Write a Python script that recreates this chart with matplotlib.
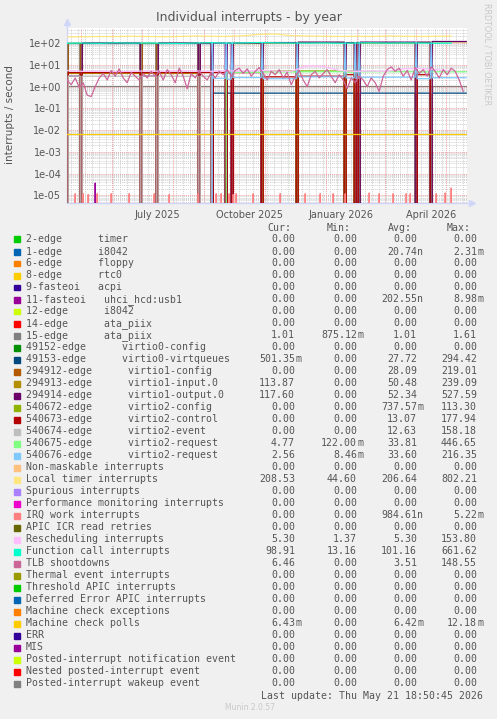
# Munin "Individual interrupts - by year" graph, redrawn with matplotlib

import numpy as np
import pandas as pd
import matplotlib
matplotlib.use('Agg')
import matplotlib.pyplot as plt
import matplotlib.dates as mdates
from matplotlib.patches import Rectangle
from matplotlib.lines import Line2D
from matplotlib.ticker import LogLocator, FuncFormatter, NullFormatter

W, H = 497, 719

# ---------------- data ----------------
t_start = pd.Timestamp('2025-04-16 18:50')
t_end = pd.Timestamp('2026-05-21 18:50')
days = pd.date_range('2025-04-17', '2026-05-21', freq='D')

# reboots: the virtio counters fall to zero on these days
outages = ['2025-04-17', '2025-05-01', '2025-06-30', '2025-07-16', '2025-08-27',
           '2025-09-09', '2025-09-23', '2025-09-29', '2025-10-29', '2025-12-03',
           '2026-01-20', '2026-01-30', '2026-02-03', '2026-04-01', '2026-04-16']

# level of each irq in the period that follows each reboot
lvl_15 = 1.01
lvl_49153 = [95, 95, 95, 95, 95, 0.5, 0.5, 0.5, 0.5, 0.5, 0.5, 0.5, 0.5, 0.5, 0.5]
lvl_294912 = [97, 97, 97, 97, 97, 0, 0, 0, 0, 0, 0, 0, 0, 0, 0]
lvl_294913 = [4, 4, 4, 4, 0, 0, 0, 95, 100, 105, 100, 100, 100, 105, 113.87]
lvl_294914 = [3, 100, 3, 100, 100, 100, 100, 100, 105, 110, 105, 105, 110, 110, 117.6]
lvl_540672 = [0, 0, 0, 0, 0, 0, 0, 0, 5.2, 5.2, 5.2, 0, 0, 0, 0]
lvl_540673 = [4.4, 4.4, 4.4, 4.4, 4.4, 4.4, 4.4, 4.4, 2.8, 3.0, 3.5, 3.5, 0, 3.5, 0]
lvl_540674 = [3, 3, 3, 3, 3, 0, 0, 0, 0, 0, 0, 0, 0, 0, 0]
lvl_540675 = [0, 0, 0, 0, 0, 0, 4.6, 4.5, 4.7, 4.8, 4.6, 4.7, 4.8, 4.7, 4.77]
# virtio2-request (second queue) keeps counting through the reboot days
boot_540675 = [0, 0, 0, 0, 0, 0, 4.6, 4.5, 4.7, 4.8, 4.6, 4.7, 4.8, 4.7, 4.77]
lvl_540676 = [0, 0, 0, 0, 0, 2.4, 2.2, 2.6, 2.3, 2.8, 2.5, 2.4, 2.7, 2.3, 2.56]
# virtio2-request burst on the reboot day itself
boot_540676 = [0, 0, 0, 0, 0, 100, 100, 100, 100, 100, 100, 100, 100, 100, 100]

# sampled every 16 days
local_timer = [190, 195, 200, 198, 205, 200, 195, 200, 210, 205, 200, 215, 250,
               260, 220, 210, 205, 200, 205, 200, 210, 205, 200, 205, 208]
function_call = [98, 100, 97, 102, 99, 100, 98, 96, 100, 103, 99, 101, 105,
                 102, 100, 99, 101, 98, 100, 102, 99, 101, 100, 98, 99]
rescheduling = [5.5, 5.0, 5.2, 4.8, 5.0, 5.3, 5.0, 5.5, 5.2, 5.0, 5.4, 5.0, 5.6,
                5.2, 5.0, 9.0, 8.5, 5.5, 5.0, 5.2, 5.0, 6.5, 6.8, 6.0, 5.3]

# sampled every 4 days
tlb = [2.0, 1.2, 2.5, 0.9, 1.5, 0.4, 0.35, 1.0,
       2.5, 4.0, 2.0, 5.5, 3.0, 6.5, 2.5, 1.5, 4.5, 3.0, 2.0,
       4.0, 2.5, 5.0, 3.0,
       5.0, 2.0, 6.0, 3.5, 1.5, 7.0, 3.0, 0.8, 4.0, 2.5, 5.0,
       3.0, 2.0, 4.5, 2.5, 5.0, 3.5, 6.0, 3.0, 5.5, 7.0,
       4.0, 6.5, 3.0, 5.0, 7.5, 4.0, 2.0, 5.0, 3.5, 6.0,
       2.5, 4.5, 1.2, 3.0, 5.5, 2.0, 1.0, 3.5, 5.0, 2.5,
       4.0, 6.0, 3.0, 1.5, 3.5, 2.0, 0.8, 2.5, 1.5, 3.0,
       2.0, 1.0, 2.5, 1.5, 0.6, 3.0, 6.0, 8.0, 5.0, 7.0,
       3.0, 5.5, 2.0, 7.5, 4.0, 6.0, 3.0, 8.0, 5.0, 2.5,
       6.0, 3.5, 7.0, 5.0, 2.0, 0.6]

machine_check_polls = 6.43e-3

# short bursts near the bottom of the graph
irq_work_days = ['2025-04-25', '2025-05-03', '2025-05-08', '2025-05-17', '2025-05-31',
                 '2025-06-18', '2025-07-13', '2025-07-28', '2025-08-26', '2025-09-13',
                 '2025-09-18', '2025-09-26', '2025-09-30', '2025-10-03', '2025-10-20',
                 '2025-11-16', '2025-12-11', '2025-12-26', '2026-01-08', '2026-01-20',
                 '2026-02-13', '2026-02-23', '2026-03-09', '2026-03-22', '2026-03-26',
                 '2026-04-21', '2026-04-30', '2026-05-06']
irq_work_vals = [1.2e-5, 1.2e-5, 1.1e-5, 1.2e-5, 1.2e-5, 1.2e-5, 1.2e-5, 1.1e-5,
                 1.2e-5, 1.2e-5, 1.2e-5, 1.2e-5, 1.1e-5, 1.2e-5, 1.2e-5, 1.2e-5,
                 1.2e-5, 1.2e-5, 1.2e-5, 1.2e-5, 1.3e-5, 1.2e-5, 1.2e-5, 1.2e-5,
                 1.2e-5, 1.2e-5, 1.3e-5, 2.2e-5]
usb_days = ['2025-05-15']
usb_vals = [3.7e-5]
i8042_days = ['2025-09-10']
i8042_vals = [1.2e-5]

# legend table
names = ['2-edge      timer', '1-edge      i8042', '6-edge      floppy', '8-edge      rtc0',
         '9-fasteoi   acpi', '11-fasteoi   uhci_hcd:usb1', '12-edge      i8042',
         '14-edge      ata_piix', '15-edge      ata_piix',
         '49152-edge      virtio0-config', '49153-edge      virtio0-virtqueues',
         '294912-edge      virtio1-config', '294913-edge      virtio1-input.0',
         '294914-edge      virtio1-output.0', '540672-edge      virtio2-config',
         '540673-edge      virtio2-control', '540674-edge      virtio2-event',
         '540675-edge      virtio2-request', '540676-edge      virtio2-request',
         'Non-maskable interrupts', 'Local timer interrupts', 'Spurious interrupts',
         'Performance monitoring interrupts', 'IRQ work interrupts',
         'APIC ICR read retries', 'Rescheduling interrupts', 'Function call interrupts',
         'TLB shootdowns', 'Thermal event interrupts', 'Threshold APIC interrupts',
         'Deferred Error APIC interrupts', 'Machine check exceptions',
         'Machine check polls', 'ERR', 'MIS', 'Posted-interrupt notification event',
         'Nested posted-interrupt event', 'Posted-interrupt wakeup event']
colors = ['#00CC00', '#0066B3', '#FF8000', '#FFCC00', '#330099', '#990099', '#CCFF00',
          '#FF0000', '#808080', '#008F00', '#00487D', '#B35A00', '#B38F00', '#6B006B',
          '#8FB300', '#B30000', '#BEBEBE', '#80FF80', '#80C9FF', '#FFC080', '#FFE680',
          '#AA80FF', '#EE00CC', '#FF8080', '#666600', '#FFBFFF', '#00FFCC', '#CC6699',
          '#999900', '#00CC00', '#0066B3', '#FF8000', '#FFCC00', '#330099', '#990099',
          '#CCFF00', '#FF0000', '#808080']
z = '0.00'
cur = [z, z, z, z, z, z, z, z, '1.01', z, '501.35m', z, '113.87', '117.60', z, z, z,
       '4.77', '2.56', z, '208.53', z, z, z, z, '5.30', '98.91', '6.46', z, z, z, z,
       '6.43m', z, z, z, z, z]
mins = [z, z, z, z, z, z, z, z, '875.12m', z, z, z, z, z, z, z, z,
        '122.00m', '8.46m', z, '44.60', z, z, z, z, '1.37', '13.16', z, z, z, z, z,
        z, z, z, z, z, z]
avgs = [z, '20.74n', z, z, z, '202.55n', z, z, '1.01', z, '27.72', '28.09', '50.48',
        '52.34', '737.57m', '13.07', '12.63', '33.81', '33.60', z, '206.64', z, z,
        '984.61n', z, '5.30', '101.16', '3.51', z, z, z, z, '6.42m', z, z, z, z, z]
maxs = [z, '2.31m', z, z, z, '8.98m', z, z, '1.61', z, '294.42', '219.01', '239.09',
        '527.59', '113.30', '177.94', '158.18', '446.65', '216.35', z, '802.21', z, z,
        '5.22m', z, '153.80', '661.62', '148.55', z, z, z, z, '12.18m', z, z, z, z, z]

xtick_months = ['2025-07-01', '2025-10-01', '2026-01-01', '2026-04-01']
xtick_labels = ['July 2025', 'October 2025', 'January 2026', 'April 2026']


# ---------------- build series ----------------
def stepped(levels, at_boot=None):
    s = pd.Series(0.0, index=days)
    for day, lv in zip(outages, levels):
        s[pd.Timestamp(day):] = lv
    if at_boot is None:
        at_boot = [0.0] * len(outages)
    s[pd.to_datetime(outages)] = at_boot
    return s


def sampled(vals, step):
    return pd.Series(vals, index=pd.date_range('2025-04-17', periods=len(vals), freq=step))


def bursts(when, vals):
    s = pd.Series(0.0, index=days)
    s[pd.to_datetime(when)] = vals
    return s


series = {
    1: bursts(i8042_days, i8042_vals),
    5: bursts(usb_days, usb_vals),
    8: pd.Series(lvl_15, index=days),
    10: stepped(lvl_49153),
    11: stepped(lvl_294912),
    12: stepped(lvl_294913),
    13: stepped(lvl_294914),
    14: stepped(lvl_540672),
    15: stepped(lvl_540673),
    16: stepped(lvl_540674),
    17: stepped(lvl_540675, boot_540675),
    18: stepped(lvl_540676, boot_540676),
    20: sampled(local_timer, '16D'),
    23: bursts(irq_work_days, irq_work_vals),
    25: sampled(rescheduling, '16D'),
    26: sampled(function_call, '16D'),
    27: sampled(tlb, '4D'),
    32: pd.Series(machine_check_polls, index=days),
}

# ---------------- figure ----------------
txt = '#555555'
fig = plt.figure(figsize=(W / 100, H / 100), dpi=100, facecolor='#F0F0F0')
ax = fig.add_axes([67 / W, 1 - 203 / H, 400 / W, 175 / H])
ax.set_facecolor('white')
for sp in ax.spines.values():
    sp.set_visible(False)

ax.set_yscale('log')
ax.set_ylim(4.5e-6, 490)
ax.set_xlim(t_start, t_end)

ax.yaxis.set_major_locator(LogLocator(base=10, numticks=20))
ax.yaxis.set_minor_locator(LogLocator(base=10, subs=np.arange(2, 10), numticks=20))
ax.yaxis.set_major_formatter(FuncFormatter(lambda v, p: f'{v:.0e}'))
ax.yaxis.set_minor_formatter(NullFormatter())

dot = (0, (1, 1))
ax.set_axisbelow(True)
ax.xaxis.set_minor_locator(mdates.WeekdayLocator(byweekday=mdates.MO))
ax.grid(which='minor', axis='both', color='#D0D0D0', ls=dot, lw=0.7)
ax.grid(which='major', axis='y', color='#F0A0A0', ls=dot, lw=0.7)
for m in pd.date_range('2025-05-01', '2026-05-01', freq='MS'):
    ax.axvline(m, color='#F0A0A0', ls=dot, lw=0.7, zorder=0.8)

label_pos = [pd.Timestamp(m) + pd.Timedelta(days=15) for m in xtick_months]
ax.set_xticks(label_pos)
ax.set_xticklabels(xtick_labels)
ax.tick_params(axis='x', which='both', length=0, pad=5, labelsize=7, labelcolor=txt)
ax.tick_params(axis='y', which='both', length=0, pad=4, labelsize=7, labelcolor=txt)

for i, s in series.items():
    ax.plot(s.index, s.values, color=colors[i], lw=0.9, zorder=2 + i * 0.01)

# axes with arrows
axis_col = '#CFD6F8'
ax.add_line(Line2D([0, 1.01], [0, 0], transform=ax.transAxes, color=axis_col, lw=1, clip_on=False))
ax.add_line(Line2D([0, 0], [0, 1.03], transform=ax.transAxes, color=axis_col, lw=1, clip_on=False))
ax.plot([1.012], [0], marker='>', ms=4, color=axis_col, transform=ax.transAxes, clip_on=False)
ax.plot([0], [1.035], marker='^', ms=4, color=axis_col, transform=ax.transAxes, clip_on=False)

fig.text(0.5, 1 - 18 / H, 'Individual interrupts - by year', ha='center', va='center',
         fontsize=9, color=txt)
fig.text(10 / W, 1 - 115 / H, 'interrupts / second', rotation=90, ha='center', va='center',
         fontsize=7.5, color=txt)
fig.text(487 / W, 1 - 54 / H, 'RRDTOOL / TOBI OETIKER', rotation=270, ha='center', va='center',
         fontsize=5.8, color='#C8C8C8')

# legend table
mono = 'DejaVu Sans Mono'
fs = 7.1
for hx, h in zip([267, 327, 388, 447], ['Cur:', 'Min:', 'Avg:', 'Max:']):
    fig.text(hx / W, 1 - 228 / H, h, ha='left', va='center', family=mono, fontsize=fs, color=txt)


def put_value(xr, y, v):
    if v[-1].isalpha():
        num, suf = v[:-1], v[-1]
    else:
        num, suf = v, ''
    fig.text(xr / W, 1 - y / H, num, ha='right', va='center', family=mono, fontsize=fs, color=txt)
    if suf:
        fig.text(xr / W, 1 - y / H, suf, ha='left', va='center', family=mono, fontsize=fs, color=txt)


for i, name in enumerate(names):
    y = 239.5 + 12 * i
    fig.patches.append(Rectangle((14 / W, 1 - (y + 3) / H), 6 / W, 6 / H,
                                 transform=fig.transFigure, color=colors[i]))
    fig.text(26 / W, 1 - y / H, name, ha='left', va='center', family=mono, fontsize=fs, color=txt)
    put_value(295, y, cur[i])
    put_value(357, y, mins[i])
    put_value(417, y, avgs[i])
    put_value(477, y, maxs[i])

fig.text(483 / W, 1 - 695.7 / H, 'Last update: Thu May 21 18:50:45 2026', ha='right', va='center',
         family=mono, fontsize=fs, color=txt)
fig.text(250 / W, 1 - 708 / H, 'Munin 2.0.57', ha='center', va='center', fontsize=5.5, color='#C8C8C8')

fig.savefig('out.png', dpi=100, facecolor=fig.get_facecolor())
